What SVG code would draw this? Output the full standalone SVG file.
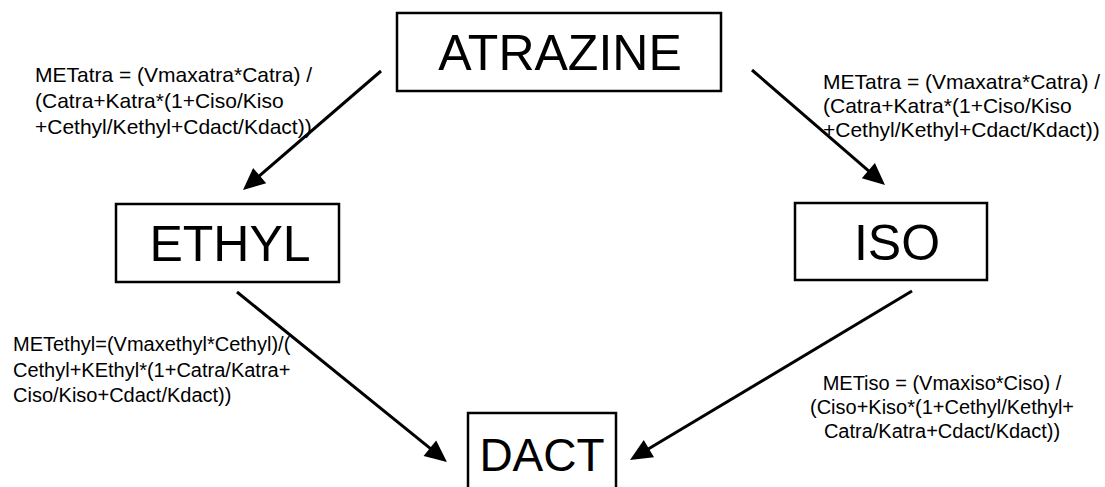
<svg xmlns="http://www.w3.org/2000/svg" width="1105" height="487" viewBox="0 0 1105 487">
  <style>
    .box { fill: #ffffff; stroke: #000000; stroke-width: 2.5; }
    .name { font-family: "Liberation Sans", Arial, sans-serif; font-size: 50px; fill: #000000; text-anchor: middle; }
    .eq { font-family: "Liberation Sans", Arial, sans-serif; font-size: 20px; fill: #000000; }
    .eq-top { font-size: 21px; }
    .edge { stroke: #000000; stroke-width: 3; fill: none; marker-end: url(#head); }
  </style>
  <defs>
    <marker id="head" viewBox="0 0 22 20" refX="8" refY="10" markerWidth="22" markerHeight="20" markerUnits="userSpaceOnUse" orient="auto" overflow="visible">
      <path d="M0,0 L22,10 L0,20 Z" fill="#000000"/>
    </marker>
  </defs>
  <rect width="1105" height="487" fill="#ffffff"/>

  <!-- metabolic conversions -->
  <g id="connectors">
    <line class="edge" x1="381" y1="71" x2="253.6" y2="180.9"/>
    <line class="edge" x1="752" y1="70" x2="874.4" y2="175.8"/>
    <line class="edge" x1="237" y1="292" x2="436.1" y2="453.2"/>
    <line class="edge" x1="912" y1="291" x2="642" y2="452.8"/>
  </g>

  <!-- rate equations -->
  <g id="eq-atrazine-ethyl" class="eq eq-top">
    <text x="35" y="82">METatra = (Vmaxatra*Catra) /</text>
    <text x="35" y="108">(Catra+Katra*(1+Ciso/Kiso</text>
    <text x="35" y="134">+Cethyl/Kethyl+Cdact/Kdact))</text>
  </g>
  <g id="eq-atrazine-iso" class="eq eq-top">
    <text x="823" y="89">METatra = (Vmaxatra*Catra) /</text>
    <text x="823" y="113">(Catra+Katra*(1+Ciso/Kiso</text>
    <text x="823" y="137">+Cethyl/Kethyl+Cdact/Kdact))</text>
  </g>
  <g id="eq-ethyl-dact" class="eq">
    <text x="13" y="351">METethyl=(Vmaxethyl*Cethyl)/(</text>
    <text x="13" y="377">Cethyl+KEthyl*(1+Catra/Katra+</text>
    <text x="13" y="402">Ciso/Kiso+Cdact/Kdact))</text>
  </g>
  <g id="eq-iso-dact" class="eq" text-anchor="middle">
    <text x="942" y="390">METiso = (Vmaxiso*Ciso) /</text>
    <text x="942" y="414">(Ciso+Kiso*(1+Cethyl/Kethyl+</text>
    <text x="942" y="438">Catra/Katra+Cdact/Kdact))</text>
  </g>

  <!-- compounds -->
  <g id="atrazine">
    <rect class="box" x="397" y="13" width="324" height="78"/>
    <text class="name" x="560" y="70">ATRAZINE</text>
  </g>
  <g id="ethyl">
    <rect class="box" x="116" y="204" width="223" height="78"/>
    <text class="name" x="230" y="261">ETHYL</text>
  </g>
  <g id="iso">
    <rect class="box" x="795" y="203" width="192" height="77"/>
    <text class="name" x="897" y="260">ISO</text>
  </g>
  <g id="dact">
    <rect class="box" x="468" y="413" width="148" height="90"/>
    <text class="name" x="542" y="471" style="font-size:46px">DACT</text>
  </g>
</svg>
